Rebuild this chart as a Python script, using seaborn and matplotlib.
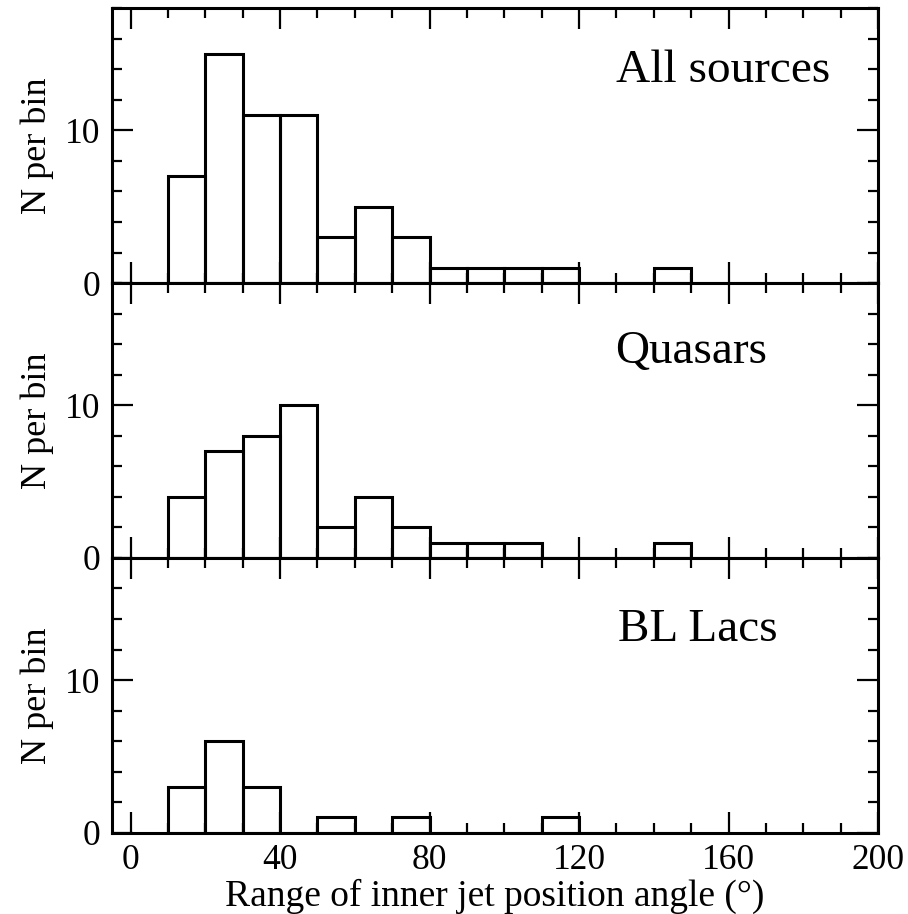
#!/usr/bin/env python3

import numpy as np
import seaborn as sns
import matplotlib.pyplot as plt
from matplotlib.ticker import MultipleLocator

# Bin left edges (deg), bins are 10 deg wide
BIN_LEFT = [10, 20, 30, 40, 50, 60, 70, 80, 90, 100, 110, 120, 130, 140]

# Counts per bin
ALL_COUNTS = [7, 15, 11, 11, 3, 5, 3, 1, 1, 1, 1, 0, 0, 1]
QSO_COUNTS = [4, 7, 8, 10, 2, 4, 2, 1, 1, 1, 0, 0, 0, 1]
BLL_COUNTS = [3, 6, 3, 0, 1, 0, 1, 0, 0, 0, 1, 0, 0, 0]

PANEL_LABELS = ["All sources", "Quasars", "BL Lacs"]
PANEL_LABEL_POS = [(0.938, 0.73), (0.855, 0.708), (0.869, 0.699)]

BIN_EDGES = list(range(10, 160, 10))
X_LIM = (-5, 200)
Y_LIM = (0, 18)

sns.set_style("ticks")
plt.rcParams["font.family"] = ["Liberation Serif", "DejaVu Serif"]
# seaborn greys out text, the original is plain black
for key in ["text.color", "axes.labelcolor", "xtick.color", "ytick.color"]:
    plt.rcParams[key] = "black"

fig, axes = plt.subplots(3, 1, figsize=(9.08, 9.14), dpi=100, sharex=True)
fig.subplots_adjust(left=0.1233, right=0.967, top=0.991, bottom=0.0889, hspace=0)

for ax, counts, label, pos in zip(
    axes, [ALL_COUNTS, QSO_COUNTS, BLL_COUNTS], PANEL_LABELS, PANEL_LABEL_POS
):
    sns.histplot(
        ax=ax,
        x=np.array(BIN_LEFT) + 5,
        weights=counts,
        bins=BIN_EDGES,
        element="bars",
        fill=False,
        color="black",
        linewidth=2.2,
    )

    ax.set_xlim(*X_LIM)
    ax.set_ylim(*Y_LIM)

    ax.xaxis.set_major_locator(MultipleLocator(40))
    ax.xaxis.set_minor_locator(MultipleLocator(10))
    ax.yaxis.set_major_locator(MultipleLocator(10))
    ax.yaxis.set_minor_locator(MultipleLocator(2))

    ax.tick_params(
        which="both", direction="in", top=True, right=True, width=1.6, color="black"
    )
    ax.tick_params(which="major", length=15, labelsize=25.5, pad=8)
    ax.tick_params(which="minor", length=7.5)

    for spine in ax.spines.values():
        spine.set_visible(True)
        spine.set_linewidth(2.2)
        spine.set_color("black")

    ax.set_ylabel("N per bin", fontsize=26, labelpad=8)
    ax.text(
        pos[0],
        pos[1],
        label,
        transform=ax.transAxes,
        ha="right",
        va="baseline",
        fontsize=34,
    )

axes[-1].set_xlabel("Range of inner jet position angle (°)", fontsize=27, labelpad=1)

plt.savefig("out.png", dpi=100)
